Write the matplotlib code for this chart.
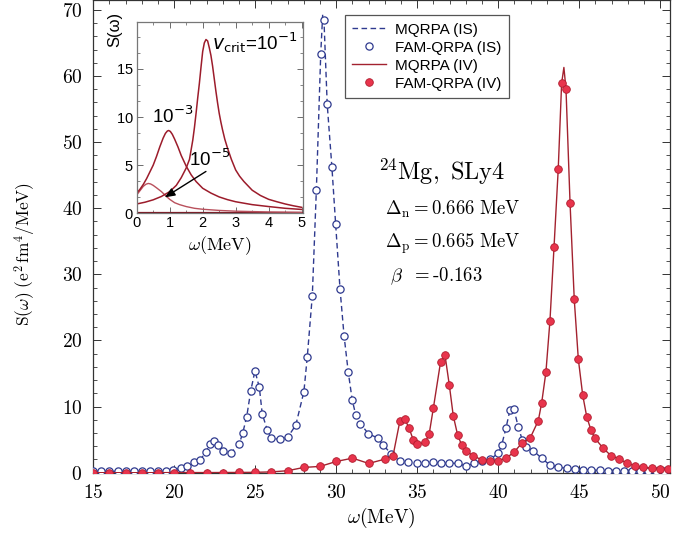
import numpy as np
import matplotlib
matplotlib.use("Agg")
import matplotlib.pyplot as plt
from matplotlib.ticker import MultipleLocator

plt.rcParams['font.family'] = 'serif'
plt.rcParams['font.serif'] = ['cmr10', 'DejaVu Serif']
plt.rcParams['mathtext.fontset'] = 'cm'
plt.rcParams['axes.formatter.use_mathtext'] = True

# ---------------- data: FAM-QRPA (IS) ----------------
is_x = [15.0, 15.5, 16.0, 16.5, 17.0, 17.5, 18.0, 18.5, 19.0, 19.5, 19.95, 20.4, 20.8, 21.2,
        21.6, 21.95, 22.2, 22.45, 22.72, 23.0, 23.5, 24.0, 24.22, 24.47, 24.72, 24.98, 25.25,
        25.43, 25.74, 25.97, 26.5, 27.0, 27.5, 28.0, 28.21, 28.52, 28.77, 29.04, 29.24, 29.44,
        29.73, 29.96, 30.23, 30.48, 30.74, 30.98, 31.2, 31.48, 31.98, 32.55, 32.9, 33.4, 33.93,
        34.44, 34.96, 35.48, 35.99, 36.46, 36.98, 37.5, 37.99, 38.5, 39.0, 39.49, 40.0, 40.21,
        40.47, 40.72, 40.96, 41.23, 41.48, 41.71, 42.16, 42.68, 43.19, 43.7, 44.22, 44.73,
        45.25, 45.75, 46.25, 46.75, 47.25, 47.75, 48.25, 48.75, 49.25, 49.75, 50.25]
is_y = [0.2, 0.2, 0.2, 0.2, 0.2, 0.2, 0.2, 0.2, 0.25, 0.3, 0.4, 0.67, 1.06, 1.57,
        1.92, 3.18, 4.34, 4.84, 4.19, 3.28, 3.03, 4.3, 5.96, 8.47, 12.4, 15.4, 12.9,
        8.88, 6.46, 5.2, 5.05, 5.36, 7.2, 12.25, 17.55, 26.8, 42.8, 63.4, 68.4, 55.7,
        46.2, 37.6, 27.8, 20.7, 15.2, 11.05, 8.73, 7.44, 5.9, 5.25, 4.19, 2.8, 1.82,
        1.57, 1.42, 1.5, 1.6, 1.42, 1.42, 1.42, 1.0, 1.42, 1.82, 2.03, 2.93, 4.19,
        6.7, 9.5, 9.64, 6.96, 4.95, 3.84, 3.33, 2.18, 1.16, 0.82, 0.67, 0.52,
        0.45, 0.4, 0.35, 0.3, 0.3, 0.25, 0.25, 0.2, 0.2, 0.2, 0.2]
# MQRPA (IS) peak that lies between FAM points
mq_is_peak_x = [29.16]
mq_is_peak_y = [69.3]

# ---------------- data: FAM-QRPA (IV) ----------------
iv_x = [15, 16, 17, 18, 19, 20, 21, 22, 23, 24, 25, 26, 27, 28, 29, 30, 31, 32, 33, 33.5,
        33.93, 34.24, 34.5, 34.75, 35.0, 35.48, 35.73, 35.99, 36.44, 36.71, 36.98, 37.22,
        37.49, 37.74, 37.99, 38.46, 38.98, 39.49, 40.0, 40.48, 40.97, 41.48, 41.96, 42.47,
        42.68, 42.94, 43.19, 43.44, 43.7, 43.91, 44.18, 44.43, 44.69, 44.94, 45.21, 45.46,
        45.72, 45.97, 46.48, 46.96, 47.47, 47.96, 48.46, 48.95, 49.47, 49.98, 50.49]
iv_y = [0.0, 0.0, 0.0, 0.0, 0.0, 0.02, 0.02, 0.02, 0.03, 0.04, 0.06, 0.12, 0.3, 0.8, 0.95,
        1.7, 2.2, 1.4, 2.05, 2.53,
        7.87, 8.07, 6.71, 4.95, 4.3, 4.6, 5.8, 9.74, 16.8, 17.8, 13.2, 8.62,
        5.7, 4.19, 3.28, 2.57, 1.92, 1.7, 1.8, 2.2, 3.1, 4.54, 5.2, 7.87,
        10.6, 15.2, 23.0, 34.1, 45.9, 58.9, 58.0, 40.8, 26.2, 17.2, 11.75, 8.47,
        6.46, 5.2, 3.69, 2.57, 2.07, 1.42, 1.01, 0.82, 0.67, 0.56, 0.51]
mq_iv_peak_x = [44.05]
mq_iv_peak_y = [61.3]

# ---------------- inset data ----------------
in_x1 = [0, 0.25, 0.5, 0.75, 1.0, 1.2, 1.35, 1.5, 1.6, 1.7, 1.75, 1.8, 1.85, 1.9, 1.95, 2.0,
         2.05, 2.1, 2.15, 2.2, 2.25, 2.3, 2.35, 2.4, 2.45, 2.5, 2.55, 2.6, 2.67, 2.75, 2.87,
         3.0, 3.12, 3.25, 3.5, 3.75, 4.0, 4.25, 4.5, 4.75, 5.0]
in_y1 = [0.97, 1.15, 1.4, 1.75, 2.25, 2.9, 3.7, 4.7, 5.6, 7.6, 8.9, 10.4, 12.0, 13.5, 15.2, 16.8,
         17.7, 18.05, 17.9, 17.2, 16.4, 15.3, 14.0, 12.7, 11.5, 10.4, 9.5, 8.7, 7.7, 6.8, 5.6,
         4.5, 3.85, 3.3, 2.4, 1.85, 1.45, 1.2, 0.97, 0.78, 0.62]
in_x3 = [0, 0.1, 0.2, 0.3, 0.4, 0.5, 0.6, 0.7, 0.8, 0.87, 0.93, 0.97, 1.02, 1.08, 1.15, 1.25,
         1.35, 1.5, 1.65, 1.8, 2.0, 2.25, 2.5, 2.75, 3.0, 3.5, 4.0, 4.5, 5.0]
in_y3 = [2.1, 2.5, 3.0, 3.6, 4.3, 5.0, 5.9, 6.9, 7.8, 8.3, 8.55, 8.6, 8.5, 8.2, 7.7, 6.9,
         6.0, 4.9, 4.0, 3.3, 2.6, 2.1, 1.7, 1.42, 1.2, 0.9, 0.7, 0.52, 0.4]
in_x5 = [0, 0.1, 0.2, 0.28, 0.35, 0.42, 0.5, 0.6, 0.75, 0.9, 1.0, 1.15, 1.3, 1.5, 1.75, 2.0,
         2.5, 3.0, 4.0, 5.0]
in_y5 = [1.9, 2.35, 2.8, 3.02, 3.1, 3.05, 2.9, 2.65, 2.25, 1.75, 1.45, 1.1, 0.9, 0.7, 0.52, 0.42,
         0.3, 0.22, 0.14, 0.1]
in_x7 = [0, 5.0]
in_y7 = [0.05, 0.05]

# ---------------- figure ----------------
W, H = 673, 536
fig = plt.figure(figsize=(W / 100, H / 100), dpi=100)
ax = fig.add_axes([93.3 / W, (H - 472.7) / H, (670 - 93.3) / W, 472.7 / H])

blue = '#2f3a8f'
red_line = '#a3222f'
red_face = '#e8344c'
red_edge = '#b01d2e'

mq_is_x = np.concatenate([is_x, mq_is_peak_x])
mq_is_y = np.concatenate([is_y, mq_is_peak_y])
o = np.argsort(mq_is_x)
mq_iv_x = np.concatenate([iv_x, mq_iv_peak_x])
mq_iv_y = np.concatenate([iv_y, mq_iv_peak_y])
o2 = np.argsort(mq_iv_x)

l1, = ax.plot(mq_is_x[o], mq_is_y[o], color=blue, lw=1.0, ls=(0, (4, 2.5)), zorder=2)
p1, = ax.plot(is_x, is_y, ls='none', marker='o', ms=5.2, mfc='white', mec=blue, mew=0.9, zorder=3)
l2, = ax.plot(mq_iv_x[o2], mq_iv_y[o2], color=red_line, lw=1.0, zorder=4)
p2, = ax.plot(iv_x, iv_y, ls='none', marker='o', ms=5.5, mfc=red_face, mec=red_edge, mew=0.6, zorder=5)

ax.set_xlim(15, 50.6)
ax.set_ylim(0, 71.5)
ax.xaxis.set_major_locator(MultipleLocator(5))
ax.xaxis.set_minor_locator(MultipleLocator(1))
ax.yaxis.set_major_locator(MultipleLocator(10))
ax.yaxis.set_minor_locator(MultipleLocator(2))
ax.tick_params(which='both', direction='in', top=True, right=True, labelsize=14, color='#333333')
ax.tick_params(which='major', length=6, width=0.7, pad=8)
ax.tick_params(which='minor', length=3, width=0.6)
for s in ax.spines.values():
    s.set_color('#333333')
    s.set_linewidth(0.9)

ax.set_xlabel(r'$\omega(\mathrm{MeV})$', fontsize=14, labelpad=3)
ax.set_ylabel(r'$\mathrm{S}(\omega)\ (\mathrm{e}^2\,\mathrm{fm}^4/\mathrm{MeV})$', fontsize=12.5)
ax.yaxis.set_label_coords((38 - 93.3) / 576.7, 1 - 254 / 472.7)

leg = ax.legend([l1, p1, l2, p2], ['MQRPA (IS)', 'FAM-QRPA (IS)', 'MQRPA (IV)', 'FAM-QRPA (IV)'],
                loc='upper left', bbox_to_anchor=(0.436, 0.968), borderaxespad=0,
                prop={'family': 'Liberation Sans', 'size': 11}, frameon=True, fancybox=False,
                edgecolor='#555555', framealpha=1, handlelength=2.2, handletextpad=0.6,
                labelspacing=0.26, borderpad=0.5)
leg.get_frame().set_linewidth(0.9)

tkw = dict(transform=ax.transAxes, fontsize=13.5)
ax.text((378 - 93.3) / 576.7, 1 - 180 / 472.7, r'$^{24}\mathrm{Mg,\ SLy4}$',
        transform=ax.transAxes, fontsize=17.5)
ax.text((385 - 93.3) / 576.7, 1 - 215 / 472.7, r'$\Delta_\mathrm{n} = 0.666\ \mathrm{MeV}$', **tkw)
ax.text((385 - 93.3) / 576.7, 1 - 248 / 472.7, r'$\Delta_\mathrm{p} = 0.665\ \mathrm{MeV}$', **tkw)
ax.text((390 - 93.3) / 576.7, 1 - 281 / 472.7, r'$\beta\ \ =$-0.163', **tkw)

# ---------------- inset ----------------
ins = fig.add_axes([136.7 / W, (H - 213.3) / H, (303.3 - 136.7) / W, (213.3 - 21.7) / H])
ins.set_facecolor('white')
ins.set_zorder(10)
ic = '#9c1c2b'
ins.plot(in_x7, in_y7, color='#7a1420', lw=1.6)
ins.plot(in_x5, in_y5, color='#b9505c', lw=1.0)
ins.plot(in_x3, in_y3, color=ic, lw=1.1)
ins.plot(in_x1, in_y1, color=ic, lw=1.1)
ins.set_xlim(0, 5.05)
ins.set_ylim(0, 19.9)
ins.xaxis.set_major_locator(MultipleLocator(1))
ins.xaxis.set_minor_locator(MultipleLocator(0.5))
ins.yaxis.set_major_locator(MultipleLocator(5))
ins.yaxis.set_minor_locator(MultipleLocator(5 / 3))
ins.tick_params(which='both', direction='in', top=True, right=True, color='#555555')
ins.tick_params(which='major', length=4, width=0.6, pad=2, labelsize=10.5)
ins.tick_params(which='minor', length=2, width=0.5)
for lab in ins.get_xticklabels() + ins.get_yticklabels():
    lab.set_family('Liberation Sans')
for s in ins.spines.values():
    s.set_color('#777777')
    s.set_linewidth(0.9)
ins.set_xlabel(r'$\omega(\mathrm{MeV})$', fontsize=13, labelpad=3)
ins.text(-0.13, 0.96, 'S(ω)', transform=ins.transAxes, rotation=90, ha='center', va='center',
         family='Liberation Sans', fontsize=12)
ins.text(2.27, 17.0, r'$\mathbf{\mathit{v}}_{\mathrm{crit}}$=10$^{\mathrm{-1}}$', family='Liberation Sans',
         fontsize=13.5, math_fontfamily='dejavusans')
ins.text(0.45, 9.4, r'10$^{\mathrm{-3}}$', family='Liberation Sans', fontsize=13.5, math_fontfamily='dejavusans')
ins.text(1.6, 4.95, r'10$^{\mathrm{-5}}$', family='Liberation Sans', fontsize=13.5, math_fontfamily='dejavusans')
ins.annotate('', xy=(0.78, 1.5), xytext=(2.17, 4.5),
             arrowprops=dict(arrowstyle='-|>,head_length=0.6,head_width=0.25', color='black', lw=1.0))

fig.savefig('out.png', dpi=100)
